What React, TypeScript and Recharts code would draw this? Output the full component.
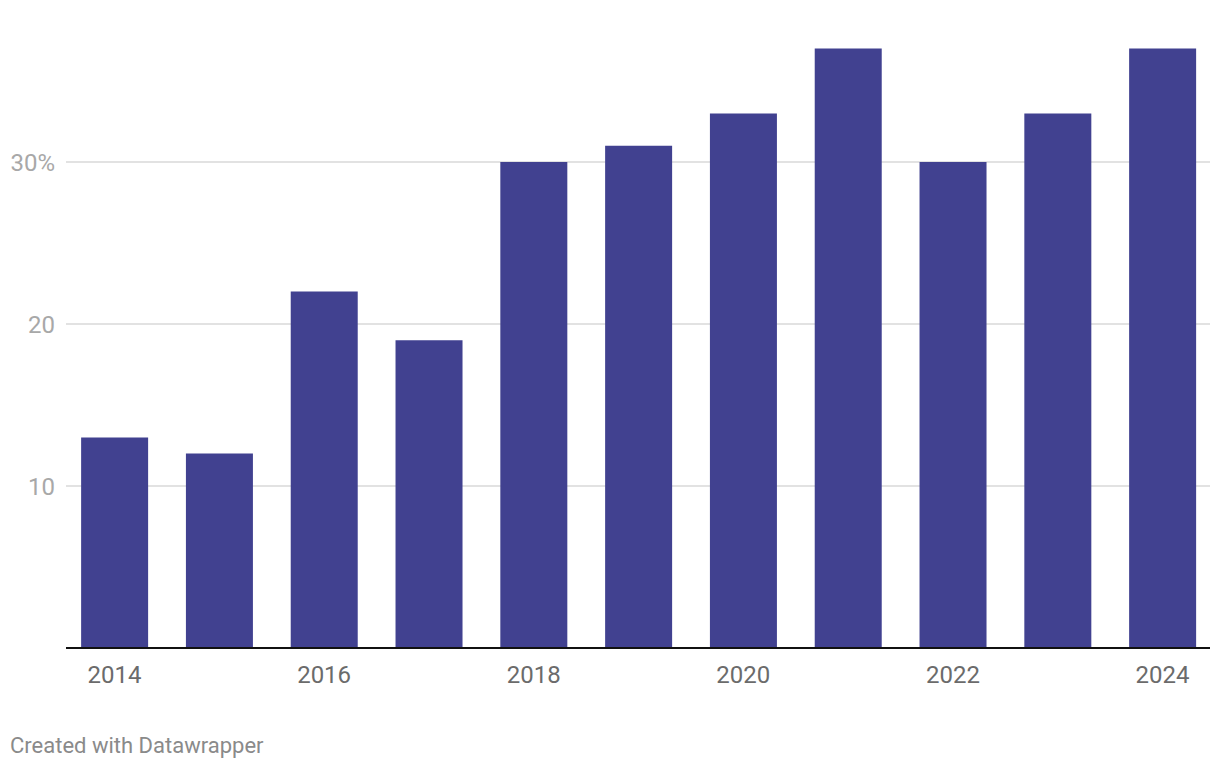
import { BarChart, Bar, XAxis, YAxis, CartesianGrid } from "recharts";

const years = [2014, 2015, 2016, 2017, 2018, 2019, 2020, 2021, 2022, 2023, 2024];
const shares = [13, 12, 22, 19, 30, 31, 33, 37, 30, 33, 37];
const yearTicks = [2014, 2016, 2018, 2020, 2022, 2024];
const valueTicks = [10, 20, 30];

const data = years.map((year, i) => ({ year, share: shares[i] }));

const FONT = "Roboto, 'Noto Sans', sans-serif";

export default function App() {
  return (
    <div
      style={{
        position: "absolute",
        left: 0,
        top: 0,
        width: 1220,
        height: 770,
        background: "#fff",
        fontFamily: FONT,
      }}
    >
      <BarChart
        width={1220}
        height={700}
        data={data}
        margin={{ top: 0, right: 10, bottom: 12, left: 0 }}
      >
        <CartesianGrid
          vertical={false}
          horizontalValues={valueTicks}
          stroke="#e2e2e2"
          strokeWidth={2}
        />
        <XAxis
          dataKey="year"
          type="number"
          domain={[2013.537, 2024.453]}
          ticks={yearTicks}
          allowDataOverflow
          height={40}
          tickLine={false}
          tickSize={0}
          tickMargin={18}
          axisLine={{ stroke: "#111", strokeWidth: 2 }}
          tick={{ fill: "#6b6b6b", fontSize: 24, fontFamily: FONT }}
        />
        <YAxis
          domain={[0, 40]}
          ticks={valueTicks}
          width={66}
          axisLine={false}
          tickLine={false}
          tickSize={0}
          tickMargin={11}
          tickFormatter={(v: number) => (v === 30 ? `${v}%` : `${v}`)}
          tick={{ fill: "#a8a8a8", fontSize: 24, fontFamily: FONT }}
        />
        <Bar dataKey="share" fill="#414190" barSize={67} isAnimationActive={false} />
      </BarChart>
      <div
        style={{
          position: "absolute",
          left: 10,
          top: 733,
          fontSize: 22,
          color: "#8a8a8a",
          fontFamily: FONT,
        }}
      >
        Created with Datawrapper
      </div>
    </div>
  );
}
